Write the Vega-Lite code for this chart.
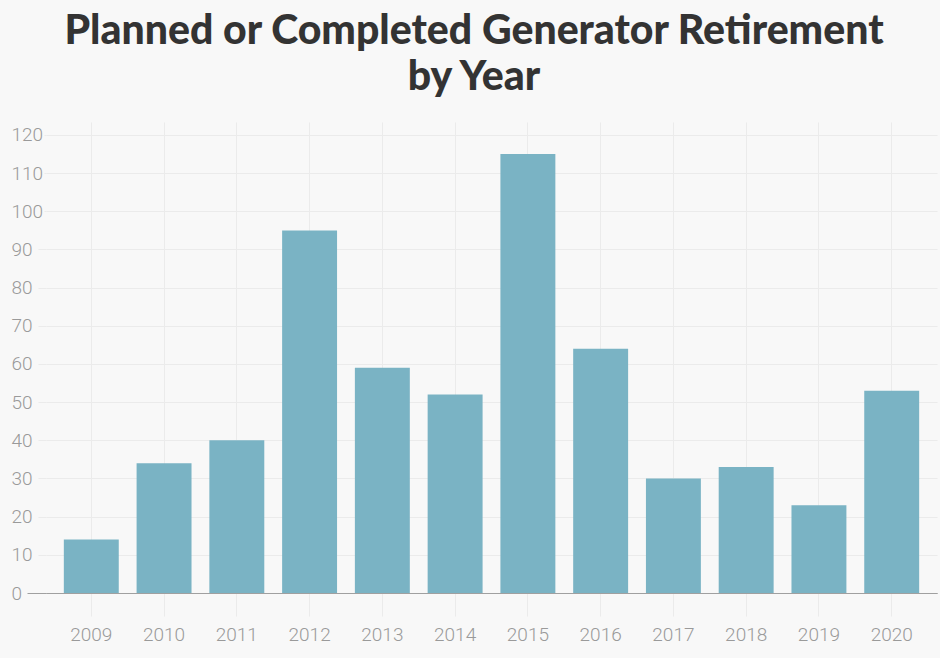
{
  "$schema": "https://vega.github.io/schema/vega-lite/v6.json",
  "description": "Planned or completed generator retirements per year",
  "autosize": {"type": "none"},
  "width": 891,
  "height": 471,
  "padding": {"left": 46, "top": 122, "right": 3, "bottom": 65},
  "background": "#f8f8f8",
  "title": {
    "text": ["Planned or Completed Generator Retirement", "by Year"],
    "anchor": "middle",
    "frame": "bounds",
    "font": "Lato",
    "fontWeight": 900,
    "fontSize": 41,
    "lineHeight": 46,
    "color": "#333333",
    "offset": 23
  },
  "data": {
    "values": [
      {"year": "2009", "retirements": 14},
      {"year": "2010", "retirements": 34},
      {"year": "2011", "retirements": 40},
      {"year": "2012", "retirements": 95},
      {"year": "2013", "retirements": 59},
      {"year": "2014", "retirements": 52},
      {"year": "2015", "retirements": 115},
      {"year": "2016", "retirements": 64},
      {"year": "2017", "retirements": 30},
      {"year": "2018", "retirements": 33},
      {"year": "2019", "retirements": 23},
      {"year": "2020", "retirements": 53}
    ]
  },
  "mark": {"type": "bar", "color": "#7ab3c4"},
  "encoding": {
    "x": {
      "field": "year",
      "type": "ordinal",
      "title": null,
      "scale": {"paddingInner": 0.245, "paddingOuter": 0.245},
      "axis": {
        "labelAngle": 0,
        "labelFont": "Roboto",
        "labelFontWeight": 300,
        "labelFontSize": 19,
        "labelColor": "#9a9a9a",
        "labelPadding": 9,
        "grid": true,
        "gridColor": "#ebebeb",
        "tickColor": "#ebebeb",
        "tickSize": 23,
        "domainColor": "#a0a0a0"
      }
    },
    "y": {
      "field": "retirements",
      "type": "quantitative",
      "title": null,
      "scale": {"domain": [0, 123.4], "nice": false},
      "axis": {
        "values": [0, 10, 20, 30, 40, 50, 60, 70, 80, 90, 100, 110, 120],
        "domain": false,
        "labelAlign": "left",
        "labelFont": "Roboto",
        "labelFontWeight": 300,
        "labelFontSize": 19,
        "labelColor": "#9a9a9a",
        "labelPadding": {"expr": "datum.value == 0 ? 16 : datum.value < 100 ? 27 : 33"},
        "tickSize": {"expr": "datum.value == 0 ? 19 : datum.value < 100 ? 8 : 2"},
        "tickColor": {"expr": "datum.value == 0 ? '#a0a0a0' : '#ebebeb'"},
        "gridColor": {"expr": "datum.value == 0 ? '#a0a0a0' : '#ebebeb'"}
      }
    }
  },
  "config": {
    "view": {"stroke": null}
  }
}
